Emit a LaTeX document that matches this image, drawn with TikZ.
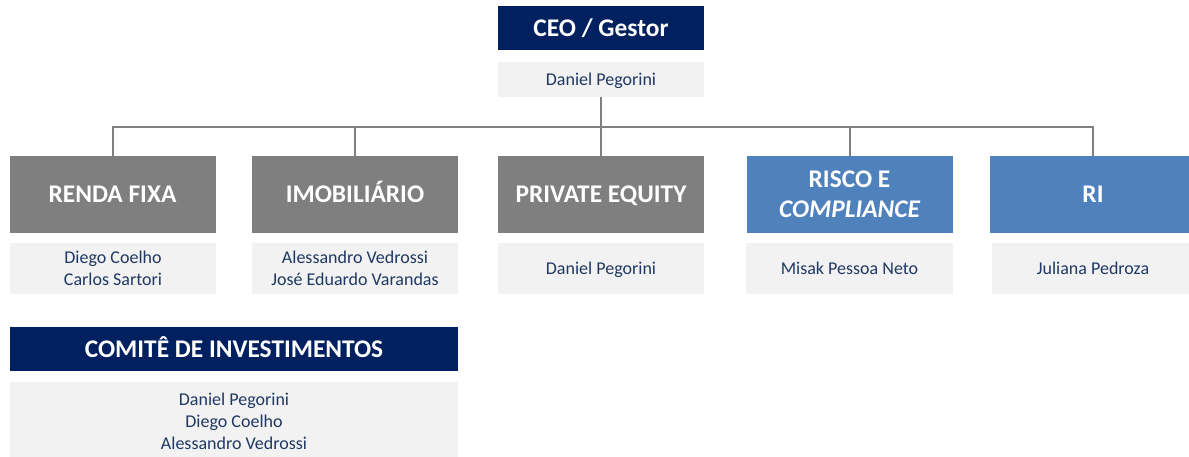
\documentclass[tikz,border=0pt]{standalone}
\usepackage{fontspec}
\setmainfont{Carlito}
\definecolor{navy}{RGB}{0,32,96}
\definecolor{headgray}{RGB}{127,127,127}
\definecolor{headblue}{RGB}{79,129,189}
\definecolor{namefill}{RGB}{242,242,242}
\definecolor{nametext}{RGB}{31,56,100}
\definecolor{linegray}{RGB}{128,128,128}
\tikzset{
	headbox/.style={inner sep=0pt, text=white, align=center, minimum width=206pt,
		text height=16.4pt, text depth=0pt,
		font=\fontsize{25.4}{30}\selectfont\bfseries},
	navybox/.style={headbox, fill=navy, minimum height=44pt},
	graybox/.style={headbox, fill=headgray, minimum height=77pt},
	bluebox/.style={headbox, fill=headblue, minimum height=77pt},
	namebox/.style={inner sep=0pt, fill=namefill, text=nametext, align=center,
		minimum width=206pt, minimum height=51pt, font=\fontsize{18}{22}\selectfont},
	oneline/.style={text height=11.6pt, text depth=0pt},
	link/.style={draw=linegray, line width=2pt}
}
\begin{document}
\begin{tikzpicture}[x=1pt, y=-1pt]
	\useasboundingbox (0,0) rectangle (1189,457);
	%% Gestor
	\node[navybox] (ceo) at (601,28) {CEO / Gestor};
	\node[namebox, oneline, minimum height=35pt] (ceoname) at (601,79.5) {Daniel Pegorini};

	%% Areas
	\node[graybox] (rf) at (112.5,194.5) {RENDA FIXA};
	\node[graybox] (imob) at (355,194.5) {IMOBILIÁRIO};
	\node[graybox] (pe) at (601,194.5) {PRIVATE EQUITY};
	\node[bluebox, text height={}, text depth={}] (risco) at (849.5,194.5) {RISCO E\\\itshape COMPLIANCE};
	\node[bluebox] (ri) at (1093,194.5) {RI};

	%% Responsaveis
	\node[namebox] (rfname) at (113,268.5) {Diego Coelho\\Carlos Sartori};
	\node[namebox] (imobname) at (355,268.5) {Alessandro Vedrossi\\José Eduardo Varandas};
	\node[namebox, oneline] (pename) at (601,268.5) {Daniel Pegorini};
	\node[namebox, oneline, minimum width=207pt] (risconame) at (849.5,268.5) {Misak Pessoa Neto};
	\node[namebox, oneline, minimum width=202pt] (riname) at (1093,268.5) {Juliana Pedroza};

	%% Comite
	\node[navybox, minimum width=448pt] (comite) at (234,349) {COMITÊ DE INVESTIMENTOS};
	\node[namebox, minimum width=448pt, minimum height=78pt] (comitename) at (234,421)
		{Daniel Pegorini\\Diego Coelho\\Alessandro Vedrossi};

	%% Verbindungen
	\coordinate (bus) at (601,127);
	\draw[link] (ceoname.south) -- (pe.north);
	\draw[link] (rf.north) |- (bus) -| (ri.north);
	\foreach \n in {imob,risco}
		\draw[link] (\n.north) -- (\n.north |- bus);
\end{tikzpicture}
\end{document}
